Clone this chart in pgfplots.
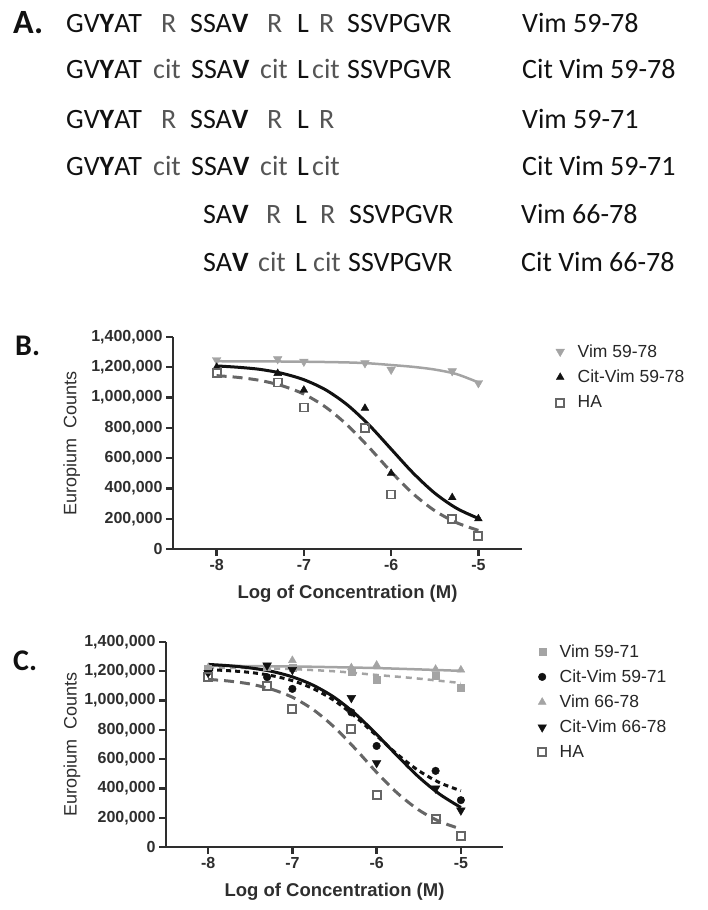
\documentclass[border=0pt]{standalone}
\usepackage{fontspec}
\setmainfont{Liberation Sans}
\newfontfamily\calfont{Carlito}
\usepackage{pgfplots}
\pgfplotsset{compat=1.18}
\definecolor{lgray}{HTML}{A4A4A4}
\definecolor{hagray}{HTML}{666666}
\definecolor{axc}{HTML}{2E2E2E}
\definecolor{seqgray}{HTML}{555555}
\definecolor{blk}{HTML}{111111}

\newcommand{\tok}[4][blk]{\node[anchor=base west, inner sep=0pt, text=#1, font=\calfont\fontsize{28}{30}\selectfont] at (#2pt,-#3pt) {#4};}

\pgfplotsset{
 gp/.style={
  scale only axis, clip=false,
  xmin=-8.5, xmax=-4.5, ymin=0, ymax=1400000,
  axis x line*=bottom, axis y line*=left,
  axis line style={-, line width=2.6pt, color=axc},
  tick align=outside, major tick length=7pt,
  major tick style={line width=2.4pt, color=axc},
  xtick={-8,-7,-6,-5}, xticklabels={-8,-7,-6,-5},
  ytick={0,200000,400000,600000,800000,1000000,1200000,1400000},
  yticklabels={0,{200,000},{400,000},{600,000},{800,000},{1,000,000},{1,200,000},{1,400,000}},
  scaled y ticks=false,
  ticklabel style={font=\bfseries\fontsize{16}{18}\selectfont, text=axc},
  xlabel={Log of Concentration (M)},
  xlabel style={font=\bfseries\fontsize{18.5}{20}\selectfont, text=axc, at={(axis description cs:0.5,0)}, anchor=center, yshift=-45pt},
  ylabel={Europium\ \ Counts},
  legend cell align=left,
  legend image code/.code={\path[draw=none,fill=none] (0pt,0pt) -- (24pt,0pt); \draw[#1] plot coordinates {(8.5pt,0pt)};},
 }
}

\begin{document}
\begin{tikzpicture}
\useasboundingbox (0pt,0pt) rectangle (708pt,-910pt);

% ---------------- Panel A ----------------
\node[anchor=base west, inner sep=0pt, text=blk, font=\calfont\bfseries\fontsize{34}{36}\selectfont] at (13pt,-33pt) {A.};
% row 1
\tok{66}{32}{GV\textbf{Y}AT}\tok[seqgray]{161}{32}{R}\tok{190}{32}{SSA\textbf{V}}\tok[seqgray]{267}{32}{R}\tok{297}{32}{L}\tok[seqgray]{319}{32}{R}\tok{347}{32}{SSVPGVR}\tok{522}{32}{Vim 59-78}
% row 2
\tok{66}{78}{GV\textbf{Y}AT}\tok[seqgray]{153}{78}{cit}\tok{191}{78}{SSA\textbf{V}}\tok[seqgray]{260}{78}{cit}\tok{297}{78}{L}\tok[seqgray]{312}{78}{cit}\tok{347}{78}{SSVPGVR}\tok{522}{78}{Cit Vim 59-78}
% row 3
\tok{66}{128}{GV\textbf{Y}AT}\tok[seqgray]{161}{128}{R}\tok{190}{128}{SSA\textbf{V}}\tok[seqgray]{267}{128}{R}\tok{297}{128}{L}\tok[seqgray]{319}{128}{R}\tok{522}{128}{Vim 59-71}
% row 4
\tok{66}{175}{GV\textbf{Y}AT}\tok[seqgray]{153}{175}{cit}\tok{191}{175}{SSA\textbf{V}}\tok[seqgray]{260}{175}{cit}\tok{297}{175}{L}\tok[seqgray]{312}{175}{cit}\tok{522}{175}{Cit Vim 59-71}
% row 5
\tok{203}{223}{SA\textbf{V}}\tok[seqgray]{266}{223}{R}\tok{295}{223}{L}\tok[seqgray]{320}{223}{R}\tok{349}{223}{SSVPGVR}\tok{521}{223}{Vim 66-78}
% row 6
\tok{203}{271}{SA\textbf{V}}\tok[seqgray]{258}{271}{cit}\tok{295}{271}{L}\tok[seqgray]{313}{271}{cit}\tok{348}{271}{SSVPGVR}\tok{521}{271}{Cit Vim 66-78}

% ---------------- Panel B ----------------
\node[anchor=base west, inner sep=0pt, text=blk, font=\calfont\bfseries\fontsize{30}{32}\selectfont] at (15pt,-355pt) {B.};
\begin{axis}[gp, at={(173pt,-549pt)}, anchor=south west, width=349pt, height=212pt,
  ylabel style={at={(axis description cs:-0.290,0.5)}, anchor=center, font=\fontsize{18}{20}\selectfont, text=axc},
  legend style={at={(axis description cs:1.0845,0.975)}, anchor=north west, draw=none, fill=none, inner sep=0pt,
     font=\fontsize{17.5}{19}\selectfont, text=black!85, row sep=7.5pt}]
% fitted curves
\addplot[forget plot, lgray, line width=2.5pt, smooth, no marks] coordinates {
 (-8,1240000) (-7.5,1239000) (-7,1237000) (-6.5,1232000) (-6.25,1226000) (-6,1215000)
 (-5.75,1203000) (-5.5,1185000) (-5.25,1155000) (-5,1100000)};
\addplot[forget plot, blk, line width=3pt, smooth, no marks] coordinates {
 (-8,1209000) (-7.75,1200000) (-7.5,1186000) (-7.25,1160000) (-7,1118000) (-6.75,1051000)
 (-6.5,951000) (-6.25,817000) (-6,660000) (-5.75,503000) (-5.5,369000) (-5.25,269000) (-5,202000)};
\addplot[forget plot, hagray, line width=3pt, dash pattern=on 10pt off 6pt, smooth, no marks] coordinates {
 (-8,1145000) (-7.75,1133000) (-7.5,1113000) (-7.25,1078000) (-7,1023000) (-6.75,937000)
 (-6.5,817000) (-6.25,669000) (-6,510000) (-5.75,366000) (-5.5,253000) (-5.25,174000) (-5,123000)};
% data points
\addplot[only marks, mark=triangle*, mark size=5pt, mark options={rotate=180, fill=lgray, draw=lgray}] coordinates {
 (-8,1248000) (-7.3,1255000) (-7,1238000) (-6.3,1228000) (-6,1185000) (-5.3,1175000) (-5,1096000)};
\addlegendentry{Vim 59-78}
\addplot[only marks, mark=triangle*, mark size=4.5pt, mark options={fill=blk, draw=blk}] coordinates {
 (-8,1200000) (-7.3,1160000) (-7,1050000) (-6.3,930000) (-6,500000) (-5.3,340000) (-5,200000)};
\addlegendentry{Cit-Vim 59-78}
\addplot[only marks, mark=square, mark size=4pt, mark options={draw=hagray, fill=white, line width=1.8pt}] coordinates {
 (-8,1160000) (-7.3,1100000) (-7,935000) (-6.3,800000) (-6,360000) (-5.3,200000) (-5,86000)};
\addlegendentry{HA}
\end{axis}

% ---------------- Panel C ----------------
\node[anchor=base west, inner sep=0pt, text=blk, font=\calfont\bfseries\fontsize{30}{32}\selectfont] at (13pt,-670pt) {C.};
\begin{axis}[gp, at={(166pt,-847pt)}, anchor=south west, width=337pt, height=205pt,
  ylabel style={at={(axis description cs:-0.279,0.5)}, anchor=center, font=\fontsize{18}{20}\selectfont, text=axc},
  legend style={at={(axis description cs:1.0905,0.998)}, anchor=north west, draw=none, fill=none, inner sep=0pt,
     font=\fontsize{17.5}{19}\selectfont, text=black!85, row sep=7pt}]
% fitted curves
\addplot[forget plot, lgray, line width=2.5pt, dash pattern=on 6pt off 5pt, smooth, no marks] coordinates {
 (-8,1225000) (-7.5,1222000) (-7,1215000) (-6.5,1200000) (-6.25,1188000) (-6,1175000)
 (-5.75,1163000) (-5.5,1150000) (-5.25,1135000) (-5,1120000)};
\addplot[forget plot, lgray, line width=2.5pt, smooth, no marks] coordinates {
 (-8,1238000) (-7,1233000) (-6.5,1228000) (-6,1222000) (-5.5,1213000) (-5,1203000)};
\addplot[forget plot, blk, line width=3pt, dash pattern=on 5pt off 4pt, smooth, no marks] coordinates {
 (-8,1211000) (-7.75,1204000) (-7.5,1192000) (-7.25,1171000) (-7,1136000) (-6.75,1081000)
 (-6.5,999000) (-6.25,889000) (-6,760000) (-5.75,631000) (-5.5,521000) (-5.25,439000) (-5,384000)};
\addplot[forget plot, blk, line width=3pt, smooth, no marks] coordinates {
 (-8,1247000) (-7.75,1238000) (-7.5,1223000) (-7.25,1200000) (-7,1162000) (-6.75,1104000)
 (-6.5,1021000) (-6.25,908000) (-6,769000) (-5.75,620000) (-5.5,478000) (-5.25,360000) (-5,270000)};
\addplot[forget plot, hagray, line width=3pt, dash pattern=on 10pt off 6pt, smooth, no marks] coordinates {
 (-8,1145000) (-7.75,1133000) (-7.5,1113000) (-7.25,1078000) (-7,1023000) (-6.75,937000)
 (-6.5,817000) (-6.25,669000) (-6,510000) (-5.75,366000) (-5.5,253000) (-5.25,174000) (-5,123000)};
% data points
\addplot[only marks, mark=square*, mark size=3.5pt, mark options={fill=lgray, draw=lgray}] coordinates {
 (-8,1220000) (-7.3,1230000) (-7,1225000) (-6.3,1195000) (-6,1140000) (-5.3,1170000) (-5,1090000)};
\addlegendentry{Vim 59-71}
\addplot[only marks, mark=*, mark size=3.8pt, mark options={fill=blk, draw=blk}] coordinates {
 (-8,1200000) (-7.3,1160000) (-7,1080000) (-6.3,920000) (-6,690000) (-5.3,520000) (-5,320000)};
\addlegendentry{Cit-Vim 59-71}
\addplot[only marks, mark=triangle*, mark size=4.5pt, mark options={fill=lgray, draw=lgray}] coordinates {
 (-8,1225000) (-7.3,1225000) (-7,1275000) (-6.3,1225000) (-6,1243000) (-5.3,1215000) (-5,1210000)};
\addlegendentry{Vim 66-78}
\addplot[only marks, mark=triangle*, mark size=5pt, mark options={rotate=180, fill=blk, draw=blk}] coordinates {
 (-8,1190000) (-7.3,1240000) (-7,1210000) (-6.3,1018000) (-6,574000) (-5.3,400000) (-5,250000)};
\addlegendentry{Cit-Vim 66-78}
\addplot[only marks, mark=square, mark size=4pt, mark options={draw=hagray, fill=white, line width=1.8pt}] coordinates {
 (-8,1160000) (-7.3,1100000) (-7,940000) (-6.3,806000) (-6,355000) (-5.3,190000) (-5,75000)};
\addlegendentry{HA}
\end{axis}
\end{tikzpicture}
\end{document}
